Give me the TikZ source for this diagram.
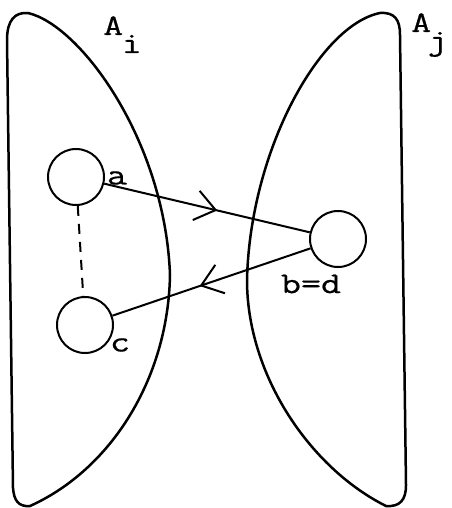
\documentclass[tikz,border=0pt]{standalone}
\usepackage{fontspec}
\setmonofont[FakeStretch=1.3,FakeBold=0.6]{Latin Modern Mono}
\usetikzlibrary{arrows.meta,decorations.markings}
\tikzset{
  every picture/.style={font=\ttfamily\fontsize{30}{33}\selectfont},
  region/.style={line width=2.5pt,line join=round},
  site/.style={draw,circle,line width=2pt,minimum size=56pt,inner sep=0pt},
  lab/.style={inner sep=0pt},
  link/.style={line width=2pt,postaction={decorate},
    decoration={markings,mark=at position #1 with {\arrow{Straight Barb[length=20pt,width=30pt]}}}},
}
\begin{document}
\begin{tikzpicture}[x=1pt,y=-1pt]
  \useasboundingbox (0,0) rectangle (451,508);
  % the two regions
  \draw[region] (28,13) .. controls (80,25) and (165,140) .. (170,275)
    .. controls (168,380) and (110,470) .. (30,506)
    .. controls (18,507) and (14,500) .. (13,488) -- (7,40)
    .. controls (7,20) and (15,12) .. (28,13) -- cycle;
  \draw[region] (380,13) .. controls (320,25) and (250,150) .. (247,280)
    .. controls (247,375) and (310,468) .. (386,506)
    .. controls (400,507) and (406,500) .. (406,485) -- (400,35)
    .. controls (400,20) and (395,12) .. (380,13) -- cycle;
  \node[lab,anchor=base west] (lAi) at (103,35) {A\hspace{-.05em}\raisebox{-18pt}{i}};
  \node[lab,anchor=base west] (lAj) at (411,32) {A\hspace{-.12em}\raisebox{-18pt}{j}};
  % sites
  \node[site] (a) at (76,177) {};
  \node[site] (c) at (85,325) {};
  \node[site] (bd) at (338,239) {};
  \node[lab] (la) at (117,178) {a};
  \node[lab] (lc) at (120,345) {c};
  \node[lab] (lbd) at (311,284) {b=d};
  \draw[line width=2pt,dash pattern=on 10pt off 8pt] (a) -- (c);
  \draw[link=0.55] (a) -- (bd);
  \draw[link=0.56] (bd) -- (c);
\end{tikzpicture}
\end{document}
